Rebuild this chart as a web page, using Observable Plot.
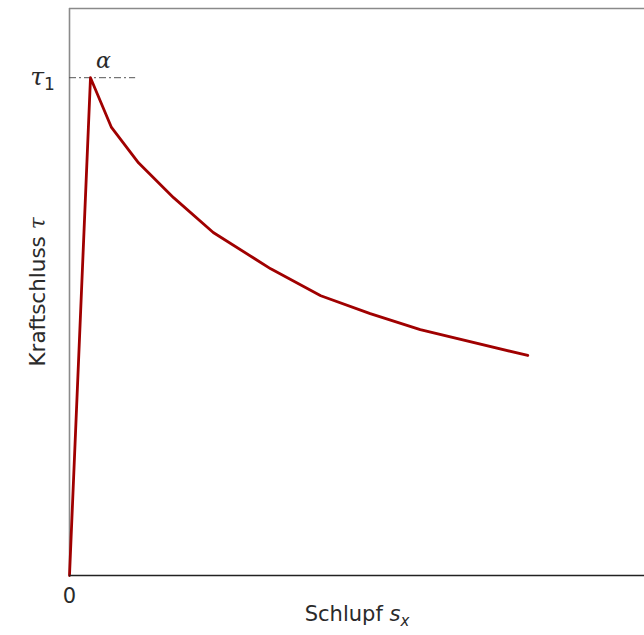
<!DOCTYPE html>
<html>
<head>
<meta charset="utf-8">
<script src="https://cdn.jsdelivr.net/npm/d3@7"></script>
<script src="https://cdn.jsdelivr.net/npm/@observablehq/plot@0.6"></script>
<style>
  html, body { margin: 0; padding: 0; background: #fff; overflow: hidden; }
  #chart svg { display: block; }
</style>
</head>
<body>
<div id="chart"></div>
<script>
// Slip (normalised to frame width) and adhesion (normalised to tau1)
const slip = [0, 0.0365, 0.073, 0.12, 0.181, 0.25, 0.35, 0.437, 0.523, 0.61, 0.797];
const tau  = [0, 1.0, 0.900, 0.829, 0.759, 0.689, 0.616, 0.562, 0.526, 0.494, 0.442];
const tau1 = 1;
const tau1DashEnd = 0.115;
const xMax = 1;
const yMax = 1.139;
const xLabel = "Schlupf";
const yLabel = "Kraftschluss";

const data = slip.map((s, i) => ({s, t: tau[i]}));

const sans = "'DejaVu Sans', sans-serif";
const serif = "'DejaVu Serif', serif";

const chart = Plot.plot({
  width: 644,
  height: 635,
  marginLeft: 69,
  marginRight: 0,
  marginTop: 8,
  marginBottom: 60,
  style: {fontFamily: sans, fontSize: "20px", background: "#fff", color: "#2a2a2a"},
  x: {domain: [0, xMax], axis: null},
  y: {domain: [0, yMax], axis: null},
  marks: [
    Plot.ruleY([yMax], {stroke: "#8a8a8a", strokeWidth: 1.6}),
    Plot.ruleX([0], {stroke: "#8a8a8a", strokeWidth: 1.6}),
    Plot.ruleY([tau1], {x1: 0, x2: tau1DashEnd, stroke: "#555", strokeWidth: 1, strokeDasharray: "7,3,2,3"}),
    Plot.line(data, {x: "s", y: "t", stroke: "#a00000", strokeWidth: 2.8, strokeLinejoin: "round"}),
    Plot.ruleY([0], {stroke: "#222", strokeWidth: 1.6}),
    // tick label 0
    Plot.text([0], {x: d => d, y: 0, text: d => String(d), dy: 21, fill: "#2a2a2a", fontSize: 21, fontFamily: sans}),
    // tau1 label
    Plot.text([tau1], {x: 0, y: d => d, text: () => "TAU1", dx: -27, dy: 1, fill: "#2a2a2a", className: "tau1lab"}),
    // alpha
    Plot.text([data[1]], {x: "s", y: "t", text: () => "α", dx: 13, dy: -17, fill: "#2a2a2a", fontFamily: serif, fontStyle: "italic", fontSize: 22}),
    // axis labels
    Plot.text([xLabel], {frameAnchor: "bottom", dy: 45, text: d => d, fill: "#2a2a2a", fontSize: 21, className: "xlab"}),
    Plot.text([yLabel], {frameAnchor: "left", textAnchor: "middle", dx: -31, rotate: -90, text: d => d, fill: "#2a2a2a", fontSize: 21.5, className: "ylab"})
  ]
});

document.getElementById("chart").append(chart);

// rich text: subscripts and math symbols
const svg = d3.select(chart);
svg.select(".tau1lab text").each(function() {
  const t = d3.select(this); t.text("");
  t.append("tspan").attr("font-family", serif).attr("font-style", "italic").attr("font-size", 25).text("τ");
  t.append("tspan").attr("dy", 5).attr("font-size", 17).text("1");
});
svg.select(".xlab text").each(function() {
  const t = d3.select(this); t.text("");
  t.append("tspan").text(xLabel + " ");
  t.append("tspan").attr("font-style", "italic").text("s");
  t.append("tspan").attr("dy", 5).attr("font-size", 15).attr("font-style", "italic").text("x");
});
svg.select(".ylab text").each(function() {
  const t = d3.select(this); t.text("");
  t.append("tspan").text(yLabel + " ");
  t.append("tspan").attr("font-family", serif).attr("font-style", "italic").text("τ");
});
</script>
</body>
</html>
